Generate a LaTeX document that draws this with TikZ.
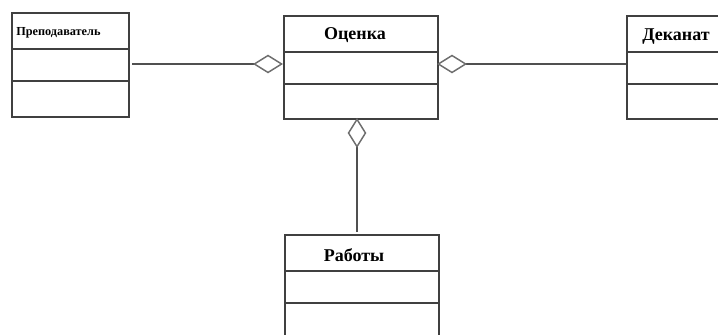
\documentclass[tikz,border=0pt]{standalone}
\usepackage{fontspec}
\setmainfont{Liberation Serif}
\usetikzlibrary{arrows.meta}
\definecolor{boxline}{HTML}{404040}
\definecolor{linkline}{HTML}{505050}
\definecolor{diamondline}{HTML}{6E6E6E}
\begin{document}
\begin{tikzpicture}[x=0.75pt,y=-0.75pt,
  umlclass/.style={draw=boxline,line width=1.5pt,rectangle,anchor=north west,
    minimum width=115.5pt,minimum height=77.25pt,inner sep=0pt},
  title/.style={font=\bfseries\fontsize{13.5}{15}\selectfont,text=black,inner sep=0pt},
  divider/.style={draw=boxline,line width=1.5pt},
  link/.style={draw=linkline,line width=1.5pt},
  agg/.style={link,-{Diamond[open,length=22.5pt,width=14pt,line width=1.1pt,color=diamondline,fill=white]}}]
\useasboundingbox (0,0) rectangle (718,335);
\clip (0,0) rectangle (718,335);

% classes
\node[umlclass,minimum width=87.75pt,minimum height=78pt] (prep) at (11,12) {};
\node[umlclass] (ocenka) at (283,15) {};
\node[umlclass] (dekanat) at (626,15) {};
\node[umlclass] (raboty) at (284,234) {};

% compartments
\draw[divider] ([yshift=-27.75pt]prep.north west) -- ([yshift=-27.75pt]prep.north east);
\draw[divider] ([yshift=-51.75pt]prep.north west) -- ([yshift=-51.75pt]prep.north east);
\foreach \c in {ocenka,dekanat,raboty}{
  \draw[divider] ([yshift=-27.75pt]\c.north west) -- ([yshift=-27.75pt]\c.north east);
  \draw[divider] ([yshift=-51.75pt]\c.north west) -- ([yshift=-51.75pt]\c.north east);
}

% class names
\node[title,font=\bfseries\fontsize{9.2}{10}\selectfont,anchor=west] (prep-name) at (16,33) {Преподаватель};
\node[title] (ocenka-name) at (355,35) {Оценка};
\node[title] (dekanat-name) at (676,37) {Деканат};
\node[title] (raboty-name) at (354,255) {Работы};

% aggregation links
\coordinate (prep-end) at (132,64);
\coordinate (ocenka-left) at (283,64);
\coordinate (ocenka-right) at (437,64);
\coordinate (dekanat-end) at (626,64);
\coordinate (ocenka-bottom) at (357,118);
\coordinate (raboty-top) at (357,232);
\draw[agg] (prep-end) -- (ocenka-left);
\draw[agg] (dekanat-end) -- (ocenka-right);
\draw[agg] (raboty-top) -- (ocenka-bottom);
\end{tikzpicture}
\end{document}
